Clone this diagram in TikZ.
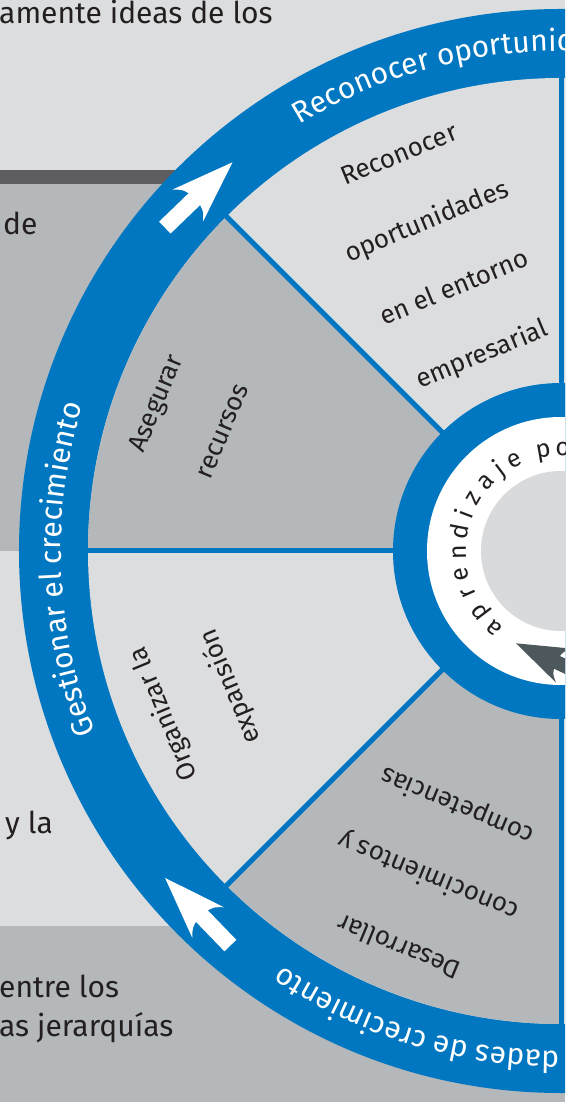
\documentclass[tikz,border=0pt]{standalone}
\usepackage{fontspec}
\setmainfont{Fira Sans}
\usepackage{tikz}
\usetikzlibrary{decorations.text}

\definecolor{anillo}{HTML}{0077C0}
\definecolor{grisclaro}{HTML}{DCDDDF}
\definecolor{grismedio}{HTML}{B4B8BB}
\definecolor{grisoscuro}{HTML}{5E5E61}
\definecolor{grisnucleo}{HTML}{D9DADC}
\definecolor{flechagris}{HTML}{4D585D}
\definecolor{texto}{HTML}{231F20}

\newcommand{\anillotexto}{\color{white}\fontsize{30}{30}\selectfont}

\begin{document}
\begin{tikzpicture}[x=1pt,y=1pt,
	cuerpo/.style={anchor=base west, inner sep=0pt, text=texto, font=\fontsize{30}{39}\selectfont},
	sector/.style={align=center, inner sep=0pt, text=texto, font=\fontsize{26}{72}\selectfont},
	letra/.style={anchor=base, inner sep=0pt, text=texto, font=\fontsize{25}{25}\selectfont},
	divisor/.style={draw=anillo, line width=5pt},
	flecha/.pic={\fill[pic actions] (47,0) -- (-15,22) .. controls (-8,15) .. (-6,8.25) -- (-47,8.25) -- (-47,-8.25) -- (-6,-8.25) .. controls (-8,-15) .. (-15,-22) -- cycle;}]
	\useasboundingbox (-561,-551) rectangle (4,551);
	\clip (-561,-551) rectangle (4,551);
	% fondo
	\fill[grisclaro] (-561,-551) rectangle (4,551);
	\fill[grisoscuro] (-561,367) rectangle (4,381);
	\fill[grismedio] (-561,0) rectangle (4,367);
	\fill[grismedio] (-561,-551) rectangle (4,-375);
	\node[cuerpo] (ideas) at (-562,527) {amente ideas de los};
	\node[cuerpo] (de) at (-558,316) {de};
	\node[cuerpo] (yla) at (-556,-282) {y la};
	\node[cuerpo] (entre) at (-562,-446) {entre los};
	\node[cuerpo] (jerarquias) at (-562,-485) {as jerarquías};
	% rueda
	\fill[anillo] (0,0) circle[radius=542];
	\fill[grisclaro] (0,0) circle[radius=473];
	\fill[grismedio] (0,0) -- (135:473) arc[start angle=135, end angle=180, radius=473] -- cycle;
	\fill[grismedio] (0,0) -- (225:473) arc[start angle=225, end angle=270, radius=473] -- cycle;
	\foreach \a in {0,45,...,315}
		\draw[divisor] (\a:150) -- (\a:480);
	\node[sector, rotate=22.5] (reconocer) at (112.1:318) {Reconocer\\oportunidades\\en el entorno\\empresarial};
	\node[sector, rotate=67.5] (asegurar) at (160.2:396) {Asegurar\\recursos};
	\node[sector, rotate=112.5] (organizar) at (202.3:393) {Organizar la\\expansión};
	\node[sector, rotate=157.5, font=\fontsize{26}{76}\selectfont] (desarrollar) at (247.8:350) {Desarrollar\\conocimientos y\\competencias};
	% nucleo
	\fill[anillo] (0,0) circle[radius=168];
	\fill[white] (0,0) circle[radius=134];
	\fill[grisnucleo] (0,0) circle[radius=80];
	\foreach \l/\a in {a/229, p/217, r/204, e/193, n/181, d/169, i/159, z/149, a/137, j/127, e/117, p/100, o/89}
		\node[letra, rotate=\a-90] (letra\a) at (\a:95) {\l};
	\pic[rotate=155, scale=0.85, fill=flechagris] (nucleoflecha) at (-8.75,-109.2) {flecha};
	% texto del anillo
	\path[decorate, decoration={text along path, text={|\anillotexto|Reconocer oportunid}}] (121.5:500) arc[start angle=121.5, end angle=60, radius=500];
	\path[decorate, decoration={text along path, text={|\anillotexto|Gestionar el crecimiento}}] (201.3:500) arc[start angle=201.3, end angle=140, radius=500];
	\path[decorate, decoration={text along path, text={|\anillotexto|dades de crecimiento}}] (269.8:500) arc[start angle=269.8, end angle=200, radius=500];
	\pic[rotate=44, fill=white] (flechaarriba) at (135.5:508) {flecha};
	\pic[rotate=134, fill=white] (flechaabajo) at (224.8:512) {flecha};
\end{tikzpicture}
\end{document}
